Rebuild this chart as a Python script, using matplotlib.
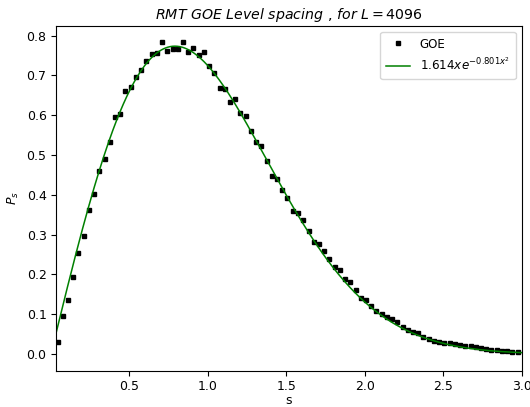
import numpy as np
import matplotlib
matplotlib.use("Agg")
import matplotlib.pyplot as plt

# level spacings s (histogram bin positions) and measured P(s)
s = [0.042, 0.075, 0.108, 0.142, 0.175, 0.208, 0.242, 0.275, 0.308, 0.342,
     0.375, 0.408, 0.442, 0.475, 0.508, 0.542, 0.575, 0.608, 0.642, 0.675,
     0.708, 0.742, 0.775, 0.808, 0.842, 0.875, 0.908, 0.942, 0.975, 1.008,
     1.042, 1.075, 1.108, 1.142, 1.175, 1.208, 1.242, 1.275, 1.308, 1.342,
     1.375, 1.408, 1.442, 1.475, 1.508, 1.542, 1.575, 1.608, 1.642, 1.675,
     1.708, 1.742, 1.775, 1.808, 1.842, 1.875, 1.908, 1.942, 1.975, 2.008,
     2.042, 2.075, 2.108, 2.142, 2.175, 2.208, 2.242, 2.275, 2.308, 2.342,
     2.375, 2.408, 2.442, 2.475, 2.508, 2.542, 2.575, 2.608, 2.642, 2.675,
     2.708, 2.742, 2.775, 2.808, 2.842, 2.875, 2.908, 2.942, 2.975]
p_goe = [0.031, 0.095, 0.136, 0.193, 0.255, 0.297, 0.361, 0.403, 0.460, 0.490,
         0.533, 0.595, 0.602, 0.662, 0.672, 0.697, 0.714, 0.736, 0.754, 0.756,
         0.783, 0.761, 0.766, 0.766, 0.785, 0.760, 0.768, 0.750, 0.760, 0.723,
         0.705, 0.669, 0.665, 0.632, 0.641, 0.605, 0.599, 0.560, 0.533, 0.523,
         0.486, 0.447, 0.439, 0.412, 0.393, 0.359, 0.354, 0.338, 0.309, 0.282,
         0.277, 0.260, 0.239, 0.218, 0.210, 0.188, 0.180, 0.161, 0.142, 0.135,
         0.121, 0.107, 0.101, 0.092, 0.088, 0.080, 0.068, 0.060, 0.056, 0.052,
         0.043, 0.037, 0.033, 0.030, 0.028, 0.027, 0.026, 0.023, 0.021, 0.019,
         0.017, 0.015, 0.013, 0.011, 0.009, 0.008, 0.007, 0.005, 0.004]

# fitted Wigner-like surmise: a * s * exp(-b * s^2)
fit_a = 1.614
fit_b = 0.801

plt.rcParams.update({"font.size": 9, "xtick.major.pad": 3, "ytick.major.pad": 3})

fig = plt.figure(figsize=(5.3, 4.07), dpi=100)
ax = fig.add_axes([0.105, 0.089, 0.879, 0.848])

ax.plot(s, p_goe, "s", color="black", markersize=2.6, label="GOE")
xs = np.linspace(0.03, 3.0, 400)
ax.plot(xs, fit_a * xs * np.exp(-fit_b * xs**2), color="green", linewidth=1.1,
        label=r"$1.614xe^{-0.801x^2}$")

ax.set_xlim(0.03, 3.0)
ax.set_ylim(-0.042, 0.825)
ax.set_xticks([0.5, 1.0, 1.5, 2.0, 2.5, 3.0])
ax.set_yticks(np.arange(0, 0.81, 0.1))
ax.set_title(r"$RMT\ GOE\ Level\ spacing\ ,\,for\ L = 4096$", fontsize=10.2, pad=5)
ax.set_xlabel("s")
ax.xaxis.set_label_coords(0.5, -0.067)
ax.set_ylabel(r"$P_s$")
ax.legend(loc="upper right", fontsize=8.6, borderpad=0.5)

fig.savefig("out.png", dpi=100)
